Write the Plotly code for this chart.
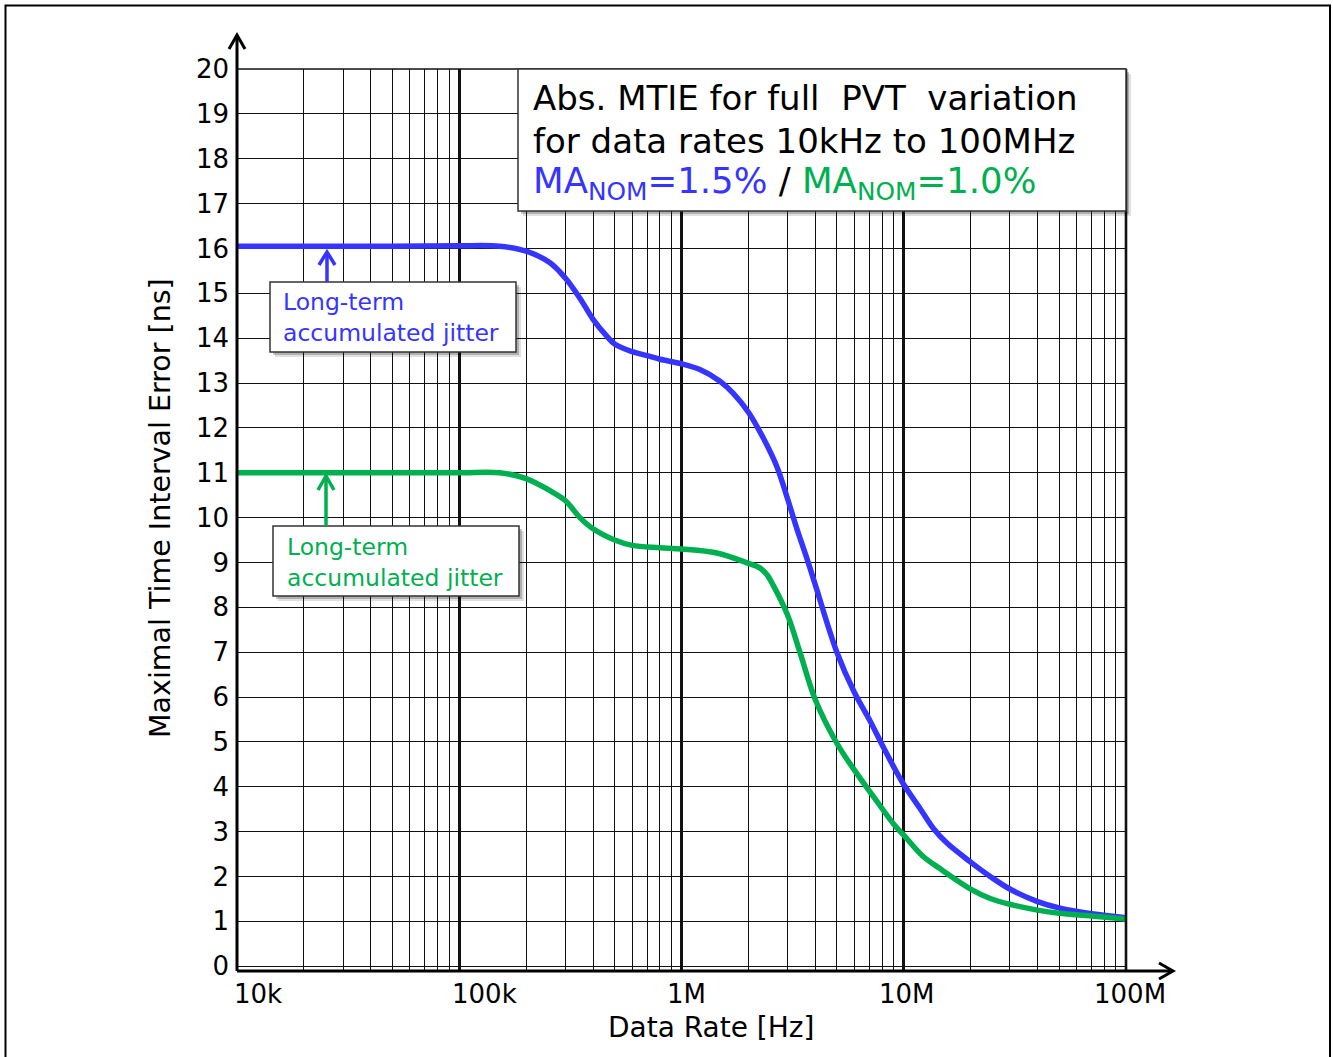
import math
import plotly.graph_objects as go

# ---------------- data ----------------
freq_blue = [1e4, 5e4, 1e5, 1.52e5, 2e5, 2.56e5, 3e5, 3.49e5, 4e5, 4.6e5, 5e5, 6e5, 7e5, 8e5,
             1e6, 1.21e6, 1.49e6, 1.71e6, 2e6, 2.33e6, 2.69e6, 3e6, 3.3e6, 3.66e6, 4e6, 5e6,
             6e6, 7e6, 8e6, 9e6, 1e7, 1.19e7, 1.36e7, 1.56e7, 2e7, 2.45e7, 3e7, 4e7, 5e7, 7e7, 1e8]
mtie_blue = [16.05, 16.05, 16.06, 16.05, 15.94, 15.68, 15.34, 14.89, 14.42, 14.05, 13.87, 13.70,
             13.61, 13.53, 13.43, 13.30, 13.04, 12.77, 12.35, 11.78, 11.13, 10.42, 9.76, 9.1,
             8.5, 7.0, 6.1, 5.5, 4.93, 4.45, 4.05, 3.5, 3.07, 2.75, 2.32, 2.0, 1.72, 1.44,
             1.30, 1.17, 1.08]

freq_green = [1e4, 5e4, 1e5, 1.52e5, 2e5, 2.56e5, 3e5, 3.49e5, 4e5, 5e5, 6e5, 8e5, 1e6, 1.44e6,
              2e6, 2.25e6, 2.42e6, 2.58e6, 3e6, 3.41e6, 4e6, 5e6, 6e6, 7.31e6, 9e6, 1e7,
              1.22e7, 1.46e7, 2e7, 2.45e7, 3e7, 4e7, 5e7, 7e7, 1e8]
mtie_green = [11.0, 11.0, 11.0, 11.0, 10.87, 10.6, 10.38, 10.0, 9.75, 9.5, 9.38, 9.33, 9.3,
              9.21, 8.98, 8.88, 8.73, 8.5, 7.83, 7.0, 5.94, 4.97, 4.37, 3.78, 3.17, 2.92,
              2.45, 2.17, 1.72, 1.51, 1.38, 1.25, 1.18, 1.12, 1.05]

x_tick_vals = [1e4, 1e5, 1e6, 1e7, 1e8]
x_tick_labels = ["10k", "100k", "1M", "10M", "100M"]
y_tick_vals = list(range(0, 21))
y_tick_labels = [str(v) for v in y_tick_vals]

x_title = "Data Rate [Hz]"
y_title = "Maximal Time Interval Error [ns]"
note_text = "Long-term<br>accumulated jitter"

# ---------------- style ----------------
BLUE = "#3535ff"
GREEN = "#00b050"
FONT = "DejaVu Sans"
W, H = 1333, 1057
L, R, T, B = 237, 207, 69, 86
PW, PH = W - L - R, H - T - B


def px(x):
    return (x - L) / PW


def py(y):
    return (H - B - y) / PH


fig = go.Figure()
fig.add_trace(go.Scatter(x=freq_blue, y=mtie_blue, mode="lines",
                         line=dict(color=BLUE, width=5.5, shape="spline", smoothing=1.0),
                         showlegend=False, hoverinfo="skip"))
fig.add_trace(go.Scatter(x=freq_green, y=mtie_green, mode="lines",
                         line=dict(color=GREEN, width=5.5, shape="spline", smoothing=1.0),
                         showlegend=False, hoverinfo="skip"))

minor_vals = [m * 10 ** d for d in range(4, 8) for m in range(2, 10)]

fig.update_xaxes(type="log", range=[4, 8], tickmode="array", tickvals=x_tick_vals,
                 showticklabels=False, ticks="", showgrid=True, gridcolor="#111",
                 gridwidth=2.6, zeroline=False, showline=False,
                 minor=dict(tickmode="array", tickvals=minor_vals, showgrid=True,
                            gridcolor="#111", gridwidth=1.4, ticks=""))
fig.update_yaxes(range=[-0.107, 20], tickmode="array", tickvals=y_tick_vals,
                 ticktext=y_tick_labels, ticks="", showgrid=True, gridcolor="#111",
                 gridwidth=1.4, zeroline=False, showline=False, ticklabelstandoff=7,
                 tickfont=dict(family=FONT, size=26, color="black"))

shapes = []
ann = []

# outer frame
shapes.append(dict(type="rect", xref="paper", yref="paper", x0=px(5.5), x1=px(1330),
                   y0=py(1070), y1=py(5.5), line=dict(color="black", width=2),
                   fillcolor="rgba(0,0,0,0)", layer="below"))
# plot top and right edge lines
shapes.append(dict(type="line", xref="paper", yref="paper", x0=0, x1=1, y0=1, y1=1,
                   line=dict(color="#111", width=1.4), layer="above"))
shapes.append(dict(type="line", xref="paper", yref="paper", x0=1, x1=1, y0=0, y1=1,
                   line=dict(color="#111", width=2.6), layer="above"))
# axes with arrows
shapes.append(dict(type="line", xref="paper", yref="paper", x0=px(237), x1=px(237),
                   y0=py(971), y1=py(35), line=dict(color="black", width=3), layer="above"))
shapes.append(dict(type="line", xref="paper", yref="paper", x0=px(237), x1=px(1173),
                   y0=py(971), y1=py(971), line=dict(color="black", width=3), layer="above"))


def chevron(tipx, tipy, ax, ay, bx, by, color, width):
    return dict(type="path", xref="paper", yref="paper",
                path=f"M {px(ax)} {py(ay)} L {px(tipx)} {py(tipy)} L {px(bx)} {py(by)}",
                line=dict(color=color, width=width), layer="above")


shapes.append(chevron(237, 35, 229, 49, 245, 49, "black", 3))
shapes.append(chevron(1173, 971, 1159, 963, 1159, 979, "black", 3))


def box(x0, y0, x1, y1):
    out = []
    out.append(dict(type="rect", xref="paper", yref="paper", x0=px(x0 + 5), x1=px(x1 + 5),
                    y0=py(y1 + 5), y1=py(y0 + 5), line=dict(width=0),
                    fillcolor="rgba(0,0,0,0.12)", layer="above"))
    out.append(dict(type="rect", xref="paper", yref="paper", x0=px(x0 + 3), x1=px(x1 + 3),
                    y0=py(y1 + 3), y1=py(y0 + 3), line=dict(width=0),
                    fillcolor="rgba(0,0,0,0.22)", layer="above"))
    out.append(dict(type="rect", xref="paper", yref="paper", x0=px(x0), x1=px(x1),
                    y0=py(y1), y1=py(y0), line=dict(color="#333", width=1.5),
                    fillcolor="white", layer="above"))
    return out


# title box
shapes += box(518, 69, 1126, 211)
# note boxes
shapes += box(270, 282, 516, 352)
shapes += box(273, 526, 519, 596)

# note arrows
shapes.append(dict(type="line", xref="paper", yref="paper", x0=px(327), x1=px(327),
                   y0=py(282), y1=py(253), line=dict(color=BLUE, width=3.5), layer="above"))
shapes.append(chevron(327, 252, 319, 265, 335, 265, BLUE, 3.5))
shapes.append(dict(type="line", xref="paper", yref="paper", x0=px(326), x1=px(326),
                   y0=py(526), y1=py(477), line=dict(color=GREEN, width=3.5), layer="above"))
shapes.append(chevron(326, 476, 318, 490, 334, 490, GREEN, 3.5))

# title text
title_lines = [
    "Abs. MTIE for full  PVT  variation",
    "for data rates 10kHz to 100MHz",
    f"<span style='color:{BLUE}'>MA<sub>NOM</sub>=1.5%</span> / "
    f"<span style='color:{GREEN}'>MA<sub>NOM</sub>=1.0%</span>",
]
title_sizes = [34, 34, 35.5]
for t, yc, fs in zip(title_lines, [98, 141, 183], title_sizes):
    ann.append(dict(xref="paper", yref="paper", x=px(531), y=py(yc), xanchor="left",
                    yanchor="middle", text=t, showarrow=False,
                    font=dict(family=FONT, size=fs, color="black")))

# note texts
ann.append(dict(xref="paper", yref="paper", x=px(281), y=py(318), xanchor="left",
                yanchor="middle", text=note_text, showarrow=False, align="left",
                font=dict(family=FONT, size=23.5, color=BLUE)))
ann.append(dict(xref="paper", yref="paper", x=px(285), y=py(562), xanchor="left",
                yanchor="middle", text=note_text, showarrow=False, align="left",
                font=dict(family=FONT, size=23.5, color=GREEN)))

# x tick labels
x_label_shift = [21, 25, 5, 3, 4]
for v, lab, sh in zip(x_tick_vals, x_tick_labels, x_label_shift):
    ann.append(dict(xref="x", yref="paper", x=math.log10(v), y=py(994), xanchor="center",
                    yanchor="middle", xshift=sh, text=lab, showarrow=False,
                    font=dict(family=FONT, size=26, color="black")))

# axis titles
ann.append(dict(xref="paper", yref="paper", x=px(711), y=py(1027), xanchor="center",
                yanchor="middle", text=x_title, showarrow=False,
                font=dict(family=FONT, size=28, color="black")))
ann.append(dict(xref="paper", yref="paper", x=px(160), y=py(508), xanchor="center",
                yanchor="middle", text=y_title, showarrow=False, textangle=-90,
                font=dict(family=FONT, size=28.5, color="black")))

fig.update_layout(width=W, height=H, margin=dict(l=L, r=R, t=T, b=B, autoexpand=False),
                  paper_bgcolor="white", plot_bgcolor="white", shapes=shapes,
                  annotations=ann, font=dict(family=FONT))

fig.write_html("out.html")
